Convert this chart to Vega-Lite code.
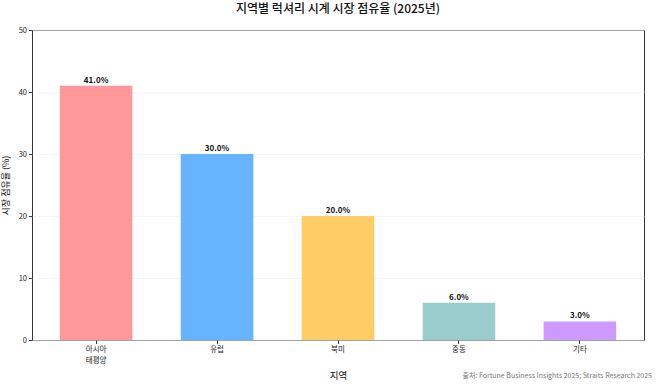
{
  "$schema": "https://vega.github.io/schema/vega-lite/v6.json",
  "width": 612,
  "height": 310,
  "autosize": {"type": "none"},
  "padding": {"left": 32, "top": 30, "right": 14, "bottom": 46},
  "background": "white",
  "config": {
    "font": "Noto Sans CJK KR",
    "view": {"stroke": "#333333", "strokeWidth": 1}
  },
  "title": {
    "text": "지역별 럭셔리 시계 시장 점유율 (2025년)",
    "fontSize": 12,
    "fontWeight": 500,
    "color": "#111111",
    "anchor": "middle",
    "offset": 10,
    "font": "Noto Sans CJK KR"
  },
  "data": {
    "values": [
      {"region": "아시아 태평양", "share": 41.0, "label": "41.0%", "color": "#FF9999"},
      {"region": "유럽", "share": 30.0, "label": "30.0%", "color": "#66B3FF"},
      {"region": "북미", "share": 20.0, "label": "20.0%", "color": "#FFCC66"},
      {"region": "중동", "share": 6.0, "label": "6.0%", "color": "#99CCCC"},
      {"region": "기타", "share": 3.0, "label": "3.0%", "color": "#CC99FF"}
    ]
  },
  "encoding": {
    "x": {
      "field": "region",
      "type": "nominal",
      "sort": null,
      "scale": {"paddingInner": 0.4, "paddingOuter": 0.23},
      "axis": {
        "title": "지역",
        "titleFontSize": 9.5,
        "titleFontWeight": "normal",
        "titleColor": "#111111",
        "titlePadding": 6,
        "labelAngle": 0,
        "labelFontSize": 7.5,
        "labelColor": "#222222",
        "labelExpr": "split(datum.label, ' ')",
        "labelLineHeight": 11,
        "domain": false,
        "tickColor": "#333333",
        "tickSize": 3.5,
        "labelPadding": 2
      }
    },
    "y": {
      "field": "share",
      "type": "quantitative",
      "scale": {"domain": [0, 50], "nice": false},
      "axis": {
        "title": "시장 점유율 (%)",
        "titleFontSize": 9,
        "titleFontWeight": "normal",
        "titleColor": "#111111",
        "titlePadding": 8,
        "values": [0, 10, 20, 30, 40, 50],
        "labelFontSize": 7.5,
        "labelColor": "#222222",
        "domain": false,
        "tickColor": "#333333",
        "tickSize": 3.5,
        "labelPadding": 2,
        "grid": true,
        "gridColor": "#eeeeee",
        "gridWidth": 0.6
      }
    }
  },
  "layer": [
    {
      "mark": {"type": "bar"},
      "encoding": {
        "color": {"field": "color", "type": "nominal", "scale": null, "legend": null}
      }
    },
    {
      "mark": {"type": "text", "baseline": "bottom", "dy": -1, "fontSize": 8, "fontWeight": "bold", "color": "#111111"},
      "encoding": {"text": {"field": "label"}}
    },
    {
      "data": {"values": [{"note": "출처: Fortune Business Insights 2025; Straits Research 2025"}]},
      "mark": {"type": "text", "align": "right", "baseline": "middle", "fontSize": 7, "color": "#777777", "x": {"expr": "width + 8"}, "y": {"expr": "height + 36"}},
      "encoding": {"text": {"field": "note"}, "x": null, "y": null}
    }
  ]
}
